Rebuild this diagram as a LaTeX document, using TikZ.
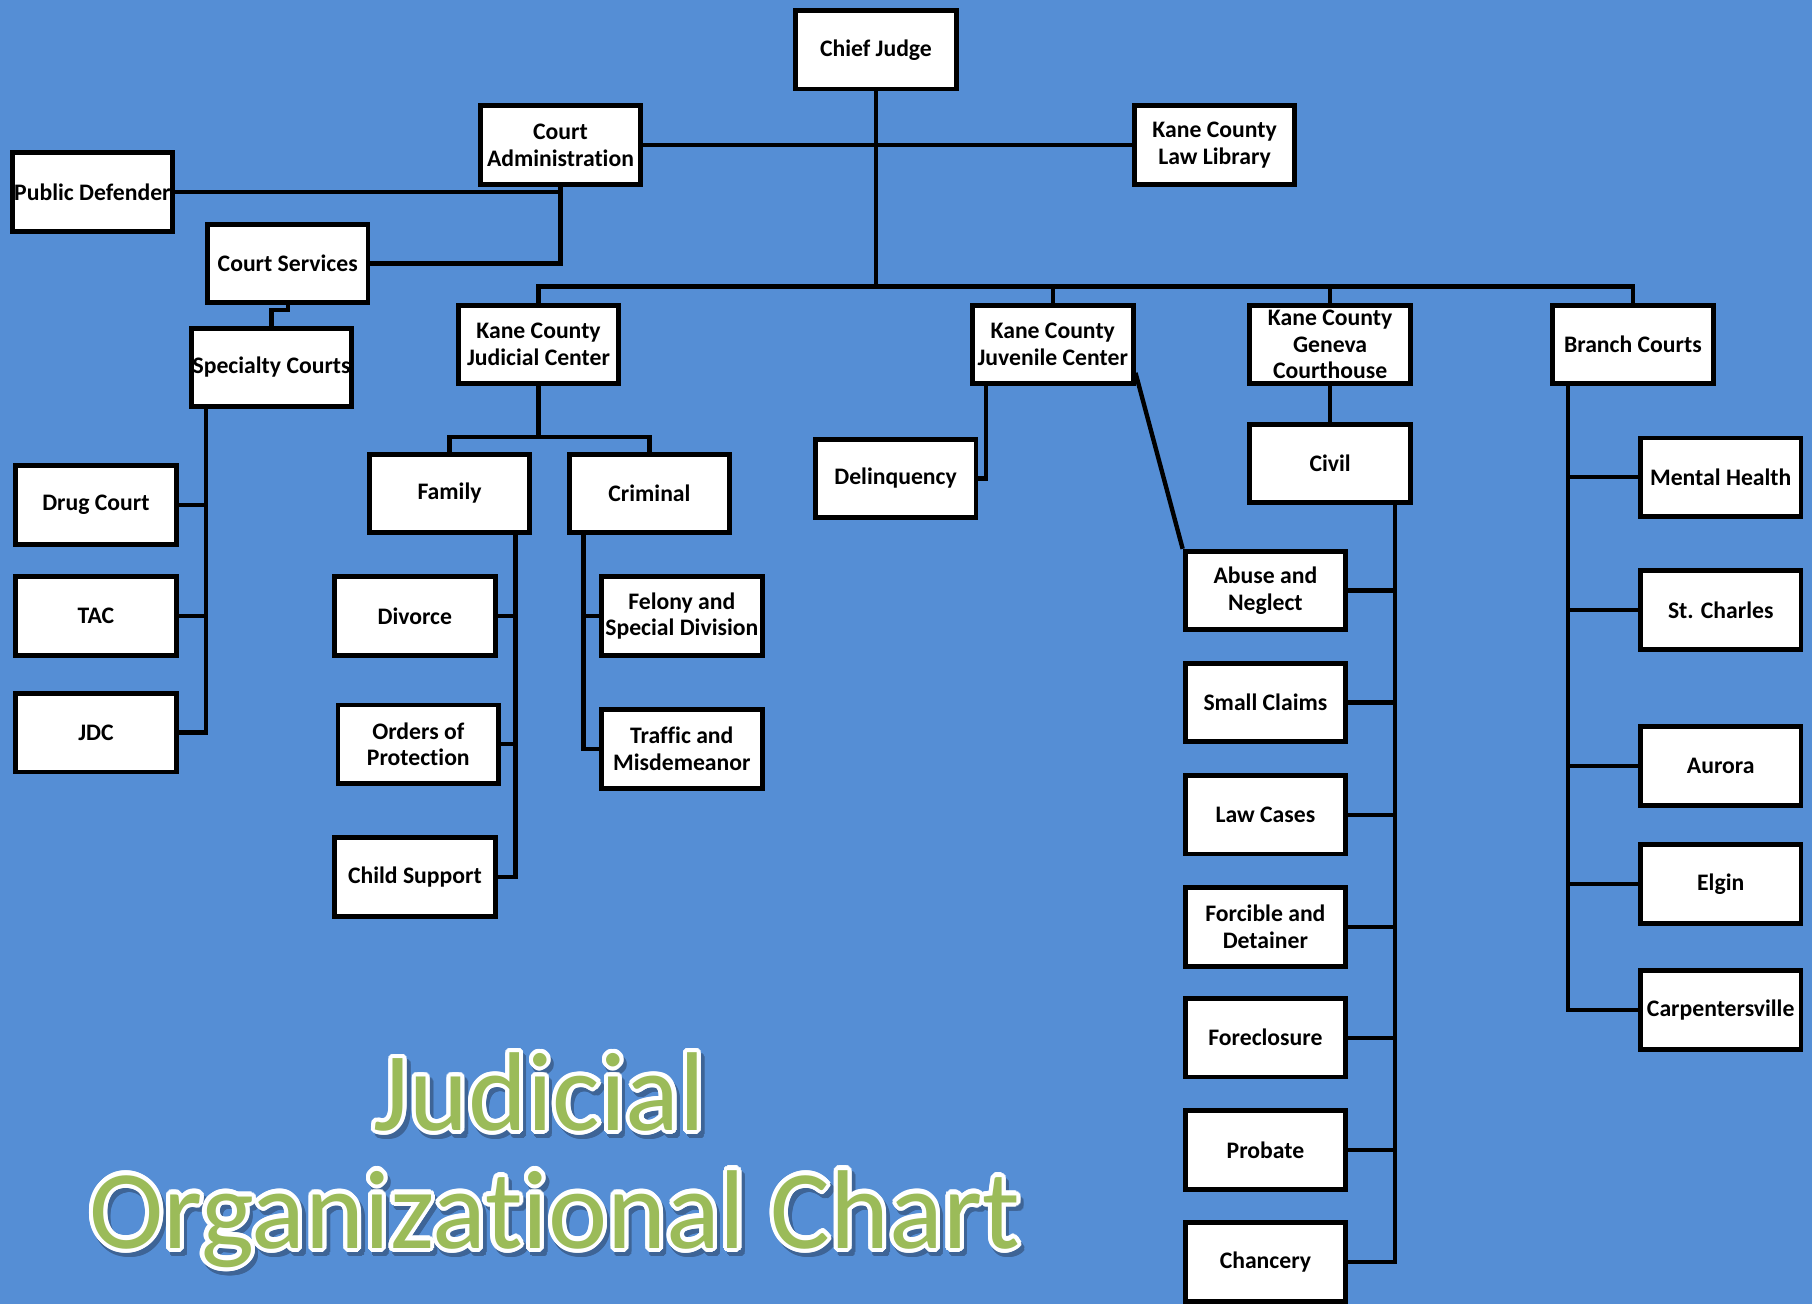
\documentclass[tikz,border=0pt]{standalone}
\usepackage{fontspec}
\setmainfont{Carlito}[Ligatures=NoCommon]
\usetikzlibrary{calc}
\definecolor{bg}{RGB}{85,142,213}
\definecolor{titlegreen}{RGB}{155,187,89}
\definecolor{shadowc}{RGB}{62,100,150}
\newcommand\mytitleline[4]{%
  \foreach \a in {0,20,...,340}{\node[ttl,text=shadowc] at ($(#1,#2)+(3,4)+(\a:3.5)$) {#3};}
  \foreach \a in {0,20,...,340}{\node[ttl,text=white] at ($(#1,#2)+(\a:3.6)$) {#3};}
  \node[ttl,text=titlegreen] (#4) at (#1,#2) {#3};
}
\begin{document}
\begin{tikzpicture}[x=1pt,y=-1pt,
  box/.style={draw=black, fill=white, line width=4.2pt, minimum width=139pt, minimum height=68pt,
    inner sep=0pt, align=center, font=\fontsize{20.5}{23}\selectfont\bfseries},
  conn/.style={line width=3.8pt, draw=black},
  ttl/.style={font=\fontsize{97}{100}\selectfont, anchor=base, inner sep=0pt}]
\fill[bg] (0,0) rectangle (1568,1128);
\useasboundingbox (0,0) rectangle (1568,1128);
\clip (0,0) rectangle (1568,1128);

% boxes
\node[box] (cj) at (758,43) {Chief Judge};
\node[box] (ca) at (485,125.5) {Court\\Administration};
\node[box] (ll) at (1051,125.5) {Kane County\\Law Library};
\node[box] (pd) at (80,166) {\makebox[120pt]{Public Defender}};
\node[box] (cs) at (249,228) {Court Services};
\node[box] (sc) at (235,318) {\makebox[120pt]{Specialty Courts}};
\node[box] (jc) at (466,298) {Kane County\\Judicial Center};
\node[box] (juv) at (911,298) {Kane County\\Juvenile Center};
\node[box] (gc) at (1151,298) {Kane County\\Geneva\\Courthouse};
\node[box] (bc) at (1413,298) {Branch Courts};
\node[box] (dc) at (83,437) {Drug Court};
\node[box] (tac) at (83,533) {TAC};
\node[box] (jdc) at (83,634) {JDC};
\node[box] (fam) at (389,427) {Family};
\node[box] (cri) at (562,427) {Criminal};
\node[box] (div) at (359,533) {Divorce};
\node[box] (oop) at (362,644) {Orders of\\Protection};
\node[box] (chs) at (359,759) {Child Support};
\node[box] (fel) at (590,533) {Felony and\\\makebox[120pt]{Special Division}};
\node[box] (tra) at (590,648) {Traffic and\\Misdemeanor};
\node[box] (del) at (775,414) {Delinquency};
\node[box] (civ) at (1151,401) {Civil};
\node[box] (abn) at (1095,511) {Abuse and\\Neglect};
\node[box] (smc) at (1095,608) {Small Claims};
\node[box] (law) at (1095,705) {Law Cases};
\node[box] (fad) at (1095,802) {Forcible and\\Detainer};
\node[box] (fcl) at (1095,898) {Foreclosure};
\node[box] (pro) at (1095,995) {Probate};
\node[box] (cha) at (1095,1092) {Chancery};
\node[box] (mh) at (1489,413) {Mental Health};
\node[box] (stc) at (1489,528) {St. Charles};
\node[box] (aur) at (1489,663) {Aurora};
\node[box] (elg) at (1489,765) {Elgin};
\node[box] (car) at (1489,874) {\makebox[120pt]{Carpentersville}};

% spine coordinates
\coordinate (hub) at (758,248);
\coordinate (jcbar) at (466,378);
\coordinate (scx) at (178,0);
\coordinate (famx) at (446,0);
\coordinate (crix) at (505,0);
\coordinate (juvx) at (853,0);
\coordinate (civx) at (1207,0);
\coordinate (bcx) at (1357,0);

% connectors
\draw[conn] (cj.south) -- (hub);
\draw[conn] (ca.east) -- (ll.west);
\draw[conn] (ca.south) |- (cs.east);
\draw[conn] (pd.east) -- (pd.east -| ca.south);
\draw[conn] (cs.south) -- ++(0,4) -| (sc.north);
\draw[conn] (jc.north) |- (hub) -| (bc.north);
\draw[conn] (juv.north) -- (juv.north |- hub);
\draw[conn] (gc.north) -- (gc.north |- hub);

\draw[conn] (sc.south -| scx) |- (jdc.east);
\draw[conn] (dc.east) -- (dc.east -| scx);
\draw[conn] (tac.east) -- (tac.east -| scx);

\draw[conn] (jc.south) -- (jcbar);
\draw[conn] (fam.north) |- (jcbar) -| (cri.north);

\draw[conn] (fam.south -| famx) |- (chs.east);
\draw[conn] (div.east) -- (div.east -| famx);
\draw[conn] (oop.east) -- (oop.east -| famx);

\draw[conn] (cri.south -| crix) |- (tra.west);
\draw[conn] (fel.west) -- (fel.west -| crix);

\draw[conn] (juv.south -| juvx) |- (del.east);
\draw[conn] (juv.-19) -- (abn.north west);

\draw[conn] (gc.south) -- (civ.north);
\draw[conn] (civ.south -| civx) |- (cha.east);
\foreach \n in {abn,smc,law,fad,fcl,pro}{\draw[conn] (\n.east) -- (\n.east -| civx);}

\draw[conn] (bc.south -| bcx) |- (car.west);
\foreach \n in {mh,stc,aur,elg}{\draw[conn] (\n.west) -- (\n.west -| bcx);}

% title
\mytitleline{467}{978}{Judicial}{t1}
\mytitleline{480}{1080}{Organizational Chart}{t2}
\end{tikzpicture}
\end{document}
